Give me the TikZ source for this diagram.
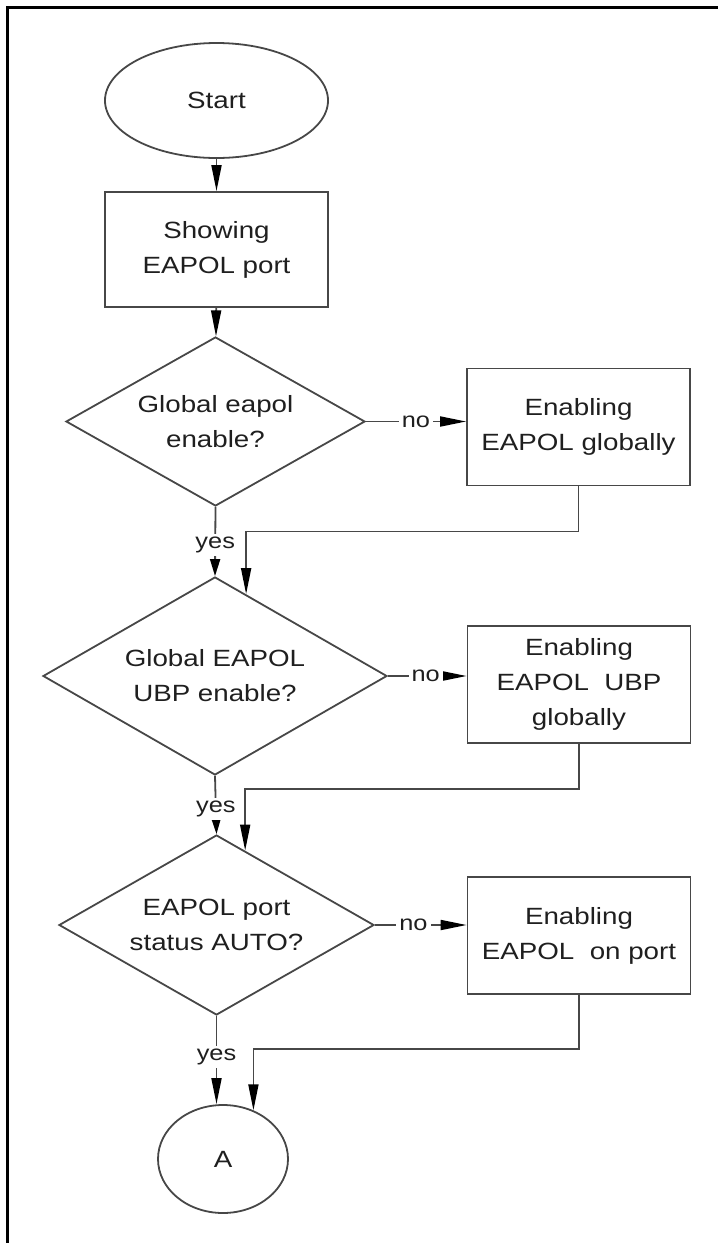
\documentclass[tikz,border=0pt]{standalone}
\usepackage{fontspec}
\setmainfont{Liberation Sans}[FakeStretch=1.18]
\usetikzlibrary{shapes.geometric,arrows.meta,calc}
\begin{document}
\begin{tikzpicture}[x=1pt,y=-1pt,
  ln/.style={draw=black!72, line width=1.8pt},
  txt/.style={text=black!88, font=\fontsize{23.5pt}{35pt}\selectfont, align=center},
  boxnode/.style={rectangle, ln, txt, minimum width=223pt, minimum height=117pt, inner sep=0pt},
  decide/.style={diamond, ln, txt, inner sep=0pt},
  arr/.style={ln, -{Triangle[length=26pt,width=10pt,color=black]}},
  shortarr/.style={ln, -{Triangle[length=17pt,width=10pt,color=black]}},
  lbl/.style={fill=white, inner sep=3pt, text=black!88, font=\fontsize{21.5pt}{24pt}\selectfont}]
\useasboundingbox (0,0) rectangle (718,1243);
% frame
\draw[line width=3.5pt, black] (7.5,1243) -- (7.5,7.5) -- (718,7.5);

\node[ellipse, ln, txt, minimum width=223pt, minimum height=115pt, inner sep=0pt] (start) at (216.5,100.5) {Start};
\node[boxnode, minimum height=115pt] (show) at (216.5,249.5) {Showing\\EAPOL port};
\node[decide, minimum width=299pt, minimum height=169pt, shape aspect=1.77] (d1) at (215.5,421.5) {Global eapol\\enable?};
\node[boxnode] (b2) at (578.5,427) {Enabling\\EAPOL globally};
\node[decide, minimum width=344pt, minimum height=198pt, shape aspect=1.74] (d2) at (215,676) {Global EAPOL\\UBP enable?};
\node[boxnode] (b3) at (579,684.5) {Enabling\\EAPOL\ \ UBP\\globally};
\node[decide, minimum width=315pt, minimum height=180pt, shape aspect=1.75] (d3) at (216.5,925) {EAPOL port\\status AUTO?};
\node[boxnode] (b4) at (579,935.5) {Enabling\\EAPOL\ \ on port};
\node[ellipse, ln, txt, minimum width=130pt, minimum height=108pt, inner sep=0pt] (A) at (223,1159) {A};

\coordinate (e2) at ($(d2.north)!0.18!(d2.east)$);
\coordinate (e3) at ($(d3.north)!0.181!(d3.east)$);

% main flow
\draw[arr] (start) -- (show);
\draw[arr] (show) -- (d1);
\draw[shortarr] (d1.south) -- node[lbl, pos=0.55] {yes} (d2.north);
\draw[shortarr] (d2.south) -- node[lbl, pos=0.57] {yes} (d3.north);
\draw[arr] (d3.south) -- node[lbl, pos=0.47] {yes} (d3.south |- A.north);

% no branches
\draw[arr] (d1.east) -- node[lbl, pos=0.5] {no} (d1.east -| b2.west);
\draw[arr] (d2.east) -- node[lbl, pos=0.48] {no} (d2.east -| b3.west);
\draw[arr] (d3.east) -- node[lbl, pos=0.42] {no} (d3.east -| b4.west);

% returns
\draw[arr] (b2.south) -- ++(0,45) -| (e2);
\draw[arr] (b3.south) -- ++(0,45) -| (e3);
\draw[arr] (b4.south) -- ++(0,54) -| (A.58);
\end{tikzpicture}
\end{document}
